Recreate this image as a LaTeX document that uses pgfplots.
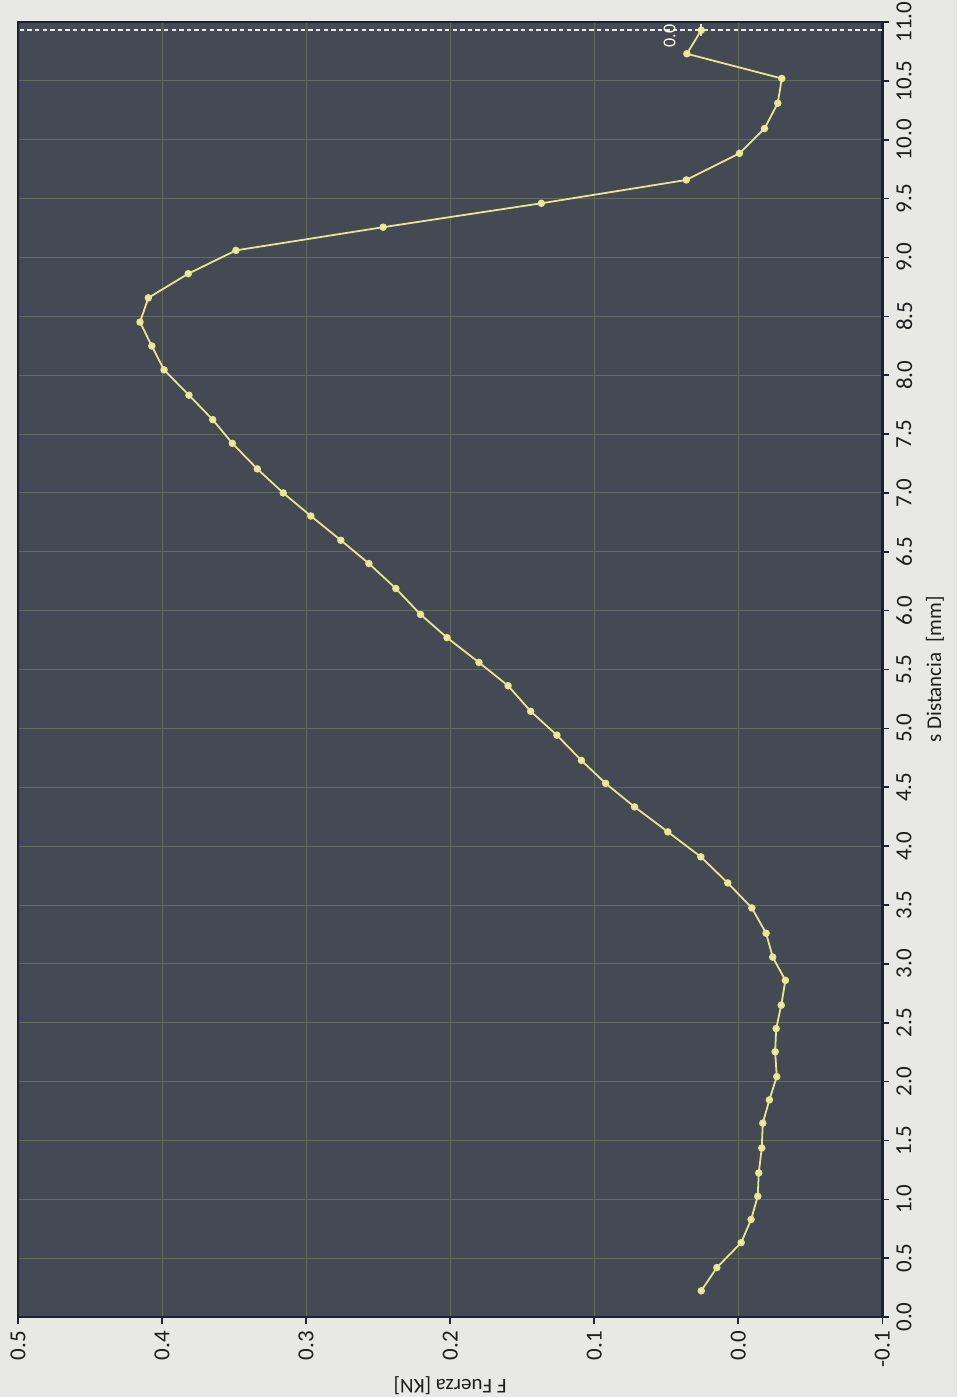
\documentclass[border=0pt]{standalone}
\usepackage{fontspec}
\setmainfont{Carlito}
\usepackage{pgfplots}
\pgfplotsset{compat=1.18}
\usepackage{pgfplotstable}
\definecolor{pagebg}{HTML}{E8E8E5}
\definecolor{plotbg}{HTML}{454953}
\definecolor{gridcol}{HTML}{626B5C}
\definecolor{lineyel}{HTML}{E6E68A}
\definecolor{framecol}{HTML}{1C2233}
\definecolor{txtcol}{HTML}{1E1E1E}
\pgfplotstableread{
d f
0.223 0.0257
0.420 0.0149
0.632 -0.0020
0.829 -0.0089
1.026 -0.0135
1.224 -0.0142
1.436 -0.0163
1.647 -0.0170
1.845 -0.0216
2.042 -0.0267
2.253 -0.0256
2.450 -0.0263
2.649 -0.0298
2.860 -0.0327
3.057 -0.0239
3.260 -0.0193
3.475 -0.0094
3.687 0.0073
3.909 0.0260
4.121 0.0489
4.333 0.0720
4.533 0.0921
4.728 0.1089
4.942 0.1259
5.145 0.1441
5.362 0.1598
5.560 0.1800
5.771 0.2022
5.968 0.2206
6.188 0.2377
6.400 0.2564
6.598 0.2759
6.804 0.2967
7.000 0.3159
7.204 0.3339
7.421 0.3512
7.622 0.3648
7.830 0.3813
8.045 0.3986
8.248 0.4071
8.451 0.4153
8.657 0.4095
8.862 0.3818
9.060 0.3487
9.257 0.2465
9.460 0.1367
9.658 0.0361
9.884 -0.0008
10.095 -0.0182
10.310 -0.0274
10.520 -0.0302
10.730 0.0357
10.930 0.0257
}\datatable
\begin{document}
\begin{tikzpicture}
\path[use as bounding box, fill=pagebg] (-9pt,-40pt) rectangle (470pt,659pt);
\begin{axis}[
  at={(0,0)}, anchor=south west,
  scale only axis, width=432.5pt, height=648pt,
  x dir=reverse,
  xmin=-0.1, xmax=0.5, ymin=0, ymax=11,
  xtick={-0.1,0,0.1,0.2,0.3,0.4,0.5},
  ytick={0,0.5,1,1.5,2,2.5,3,3.5,4,4.5,5,5.5,6,6.5,7,7.5,8,8.5,9,9.5,10,10.5,11},
  xtick pos=left, ytick pos=right, yticklabel pos=right,
  tick align=outside, major tick length=3.5pt,
  tick style={color=framecol, line width=0.8pt},
  /pgf/number format/assume math mode=true,
  /pgf/number format/.cd, fixed, fixed zerofill, precision=1, /pgfplots/.cd,
  ticklabel style={font=\fontsize{11.5}{14}\selectfont, text=txtcol},
  xticklabel style={rotate=90, anchor=east},
  yticklabel style={rotate=90, anchor=north},
  grid=major, grid style={color=gridcol, line width=0.45pt},
  axis background/.style={fill=plotbg},
  axis line style={color=framecol, line width=1.2pt},
  xlabel={F Fuerza [KN]},
  xlabel style={rotate=180, anchor=south, font=\fontsize{10.5}{12}\selectfont, text=txtcol, yshift=-2pt},
  ylabel={s Distancia\ \ [mm]},
  ylabel style={font=\fontsize{10.5}{12}\selectfont, text=txtcol},
  clip=false,
]
\addplot[color=white!85!gray, line width=1pt, dash pattern=on 2.2pt off 1.6pt] coordinates {(-0.1,10.93) (0.5,10.93)};
\addplot[color=lineyel, line width=0.9pt, mark=*, mark size=1.4pt, mark options={fill=lineyel!80!white, draw=lineyel}] table[x=f, y=d] {\datatable};
\addplot[only marks, color=lineyel!70!white, mark=+, mark size=3pt, line width=0.8pt] coordinates {(0.0257,10.93)};
\node[rotate=90, text=white!90!yellow, font=\fontsize{9}{10}\selectfont] at (axis cs:0.0477,10.88) {0.0};
\end{axis}
\end{tikzpicture}
\end{document}
